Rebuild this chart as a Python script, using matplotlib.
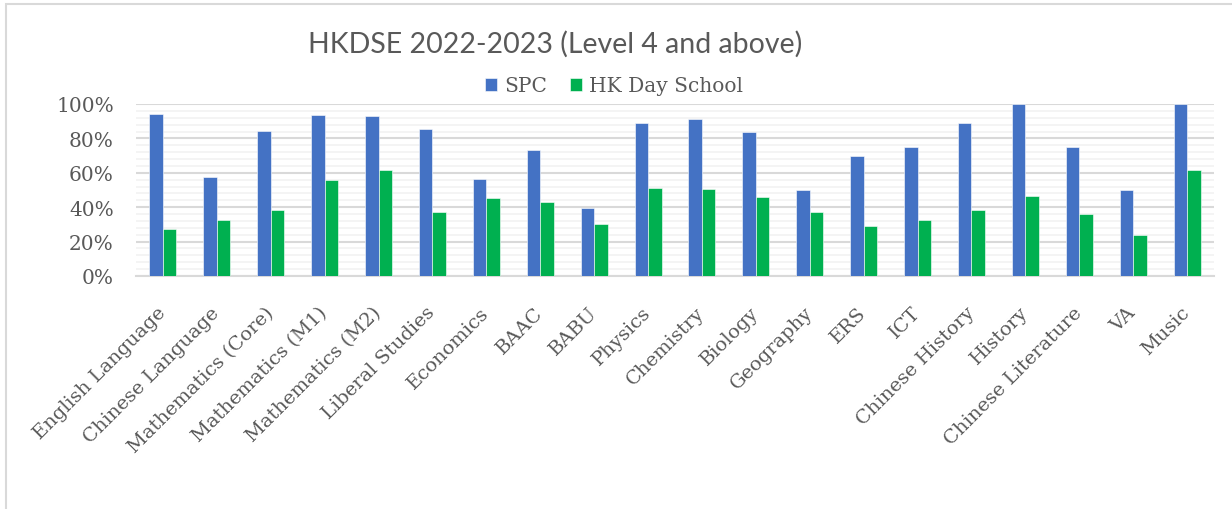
import numpy as np
import matplotlib
matplotlib.use("Agg")
import matplotlib.pyplot as plt
from matplotlib.patches import Rectangle
from matplotlib.ticker import MultipleLocator, PercentFormatter

subjects = ["English Language", "Chinese Language", "Mathematics (Core)", "Mathematics (M1)",
            "Mathematics (M2)", "Liberal Studies", "Economics", "BAAC", "BABU", "Physics",
            "Chemistry", "Biology", "Geography", "ERS", "ICT", "Chinese History", "History",
            "Chinese Literature", "VA", "Music"]
spc = [94.2, 57.6, 84.3, 93.4, 92.8, 85.3, 56.2, 73.3, 39.7, 89.1,
       91.3, 83.9, 50.0, 70.0, 75.0, 88.9, 100.0, 75.0, 50.0, 100.0]
hk_day = [27.5, 32.6, 38.4, 55.6, 61.6, 37.2, 45.5, 43.0, 30.2, 51.1,
          50.7, 45.9, 37.4, 28.9, 32.4, 38.5, 46.3, 36.2, 24.0, 61.4]

blue = "#4472C4"
green = "#00B050"
txt = "#595959"
serif = ["DejaVu Serif"]

fig = plt.figure(figsize=(12.32, 5.10), dpi=100)
ax = fig.add_axes([136/1232, 1 - 277/510, 1078/1232, 172/510])

x = np.arange(len(subjects))
w = 0.25
ax.bar(x - w/2, spc, w, color=blue, edgecolor="white", linewidth=0.4, label="SPC", zorder=3)
ax.bar(x + w/2, hk_day, w, color=green, edgecolor="white", linewidth=0.4, label="HK Day School", zorder=3)

ax.set_xlim(-0.5, len(subjects) - 0.5)
ax.set_ylim(0, 100)
ax.yaxis.set_major_locator(MultipleLocator(20))
ax.yaxis.set_minor_locator(MultipleLocator(4))
ax.yaxis.set_major_formatter(PercentFormatter(decimals=0))
ax.grid(axis="y", which="major", color="#D9D9D9", linewidth=1.5, zorder=0)
ax.grid(axis="y", which="minor", color="#F2F2F2", linewidth=1.2, zorder=0)
for s in ["top", "right", "left"]:
    ax.spines[s].set_visible(False)
ax.spines["bottom"].set_color("#D9D9D9")
ax.spines["bottom"].set_linewidth(1.5)
ax.tick_params(axis="both", which="both", length=0)
ax.tick_params(axis="y", pad=16)
ax.tick_params(axis="x", pad=24)

ax.set_xticks(x)
ax.set_xticklabels(subjects, rotation=45, ha="right", va="center", rotation_mode="anchor",
                   family=serif, fontsize=14, color=txt)
for lab in ax.get_yticklabels():
    lab.set_family(serif)
    lab.set_fontsize(14.5)
    lab.set_color(txt)

fig.text(555/1232, 1 - 44/510, "HKDSE 2022-2023 (Level 4 and above)", ha="center", va="center",
         family=["Lato", "DejaVu Sans"], fontsize=20.5, color=txt)

fig.legend(loc="center", bbox_to_anchor=(614/1232, 1 - 87/510), ncol=2, frameon=False,
           prop={"family": serif, "size": 14.5}, labelcolor=txt, handlelength=0.6,
           handleheight=0.6, handletextpad=0.35, columnspacing=1.1)

fig.patches.append(Rectangle((6/1232, -0.2), 1.2, 1 - 5/510 + 0.2, transform=fig.transFigure,
                             fill=False, edgecolor="#D9D9D9", linewidth=1.5, zorder=0))

fig.savefig("out.png", dpi=100)
